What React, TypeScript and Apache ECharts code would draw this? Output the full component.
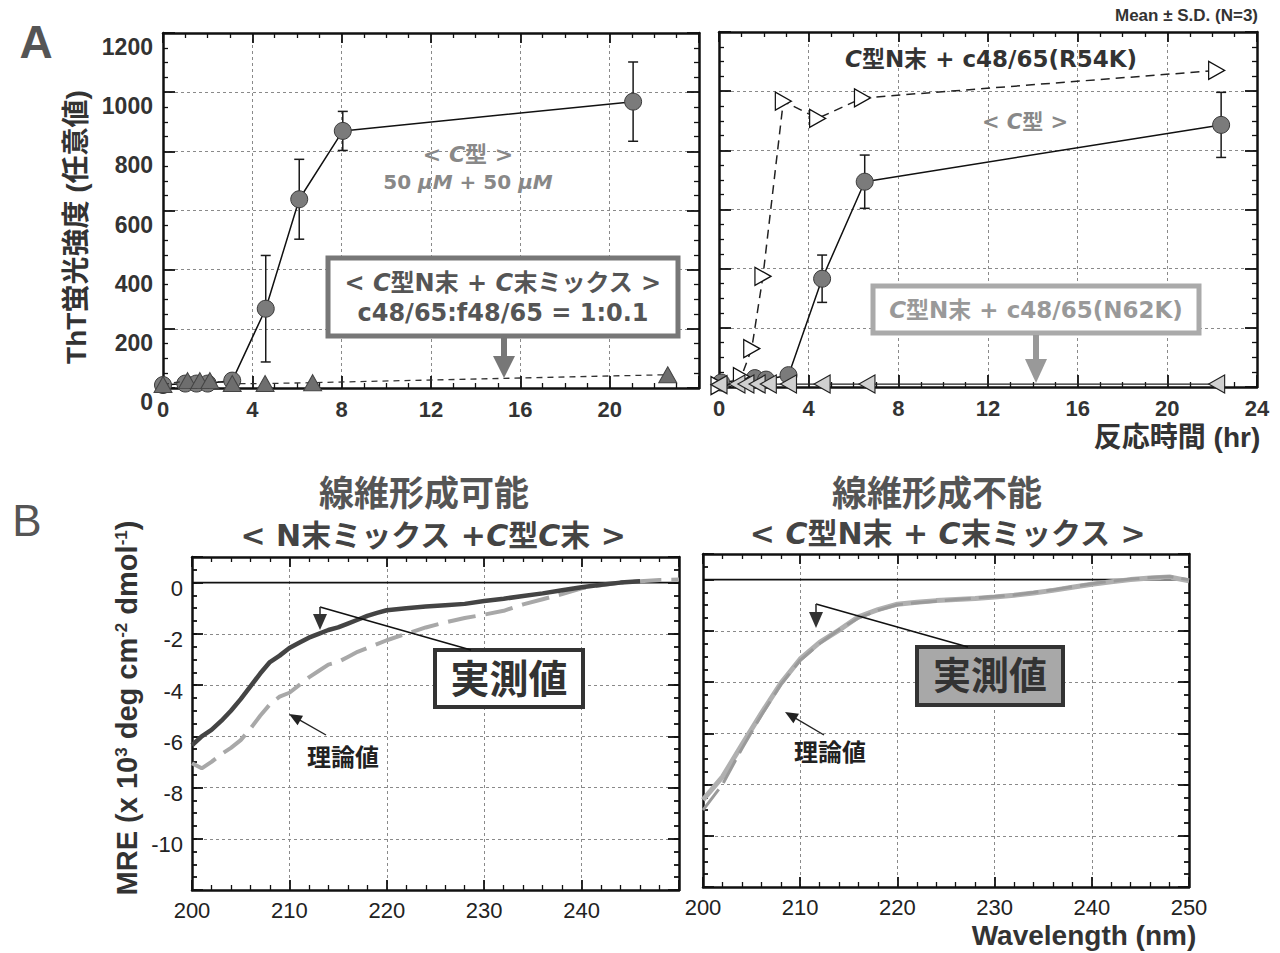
import React, { useEffect, useRef } from 'react';
import * as echarts from 'echarts';

// ---------- Panel A : ThT fluorescence (reaction time, hr) ----------
const leftCTime = [0, 1, 1.5, 2, 3.1, 4.6, 6.1, 8.05, 21.05];
const leftCValue = [10, 15, 15, 15, 25, 268, 638, 869, 968];
const leftCErr = [0, 0, 0, 0, 0, 180, 135, 66, 134];
const leftMixTime = [0, 1.1, 1.65, 2.1, 3.1, 4.57, 6.7, 22.6];
const leftMixValue = [12, 25, 25, 25, 15, 15, 18, 45];

const rightCTime = [0.1, 1.6, 2.1, 3.1, 4.6, 6.5, 22.4];
const rightCValue = [15, 30, 25, 40, 366, 694, 886];
const rightCErr = [0, 0, 0, 0, 80, 90, 110];
const rightR54KTime = [0, 1.0, 1.46, 1.96, 2.87, 4.4, 6.4, 22.2];
const rightR54KValue = [5, 35, 130, 374, 966, 908, 977, 1070];
const rightN62KTime = [0, 0.8, 1.2, 1.7, 2.2, 3.1, 4.6, 6.6, 22.2];
const rightN62KValue = [8, 10, 10, 10, 10, 10, 10, 10, 10];

// ---------- Panel B : CD spectra (MRE) ----------
const leftMeasWl = [200, 201, 202, 203, 204, 205, 206, 207, 208, 209, 210, 211, 212, 213, 214, 215, 216, 217, 218, 219, 220, 222, 224, 226, 228, 230, 232, 234, 236, 238, 240, 242, 244, 246];
const leftMeasMre = [-6.35, -6.0, -5.75, -5.4, -5.0, -4.55, -4.05, -3.55, -3.1, -2.85, -2.55, -2.35, -2.15, -2.0, -1.85, -1.75, -1.6, -1.45, -1.3, -1.18, -1.08, -1.0, -0.93, -0.88, -0.83, -0.72, -0.63, -0.52, -0.42, -0.3, -0.18, -0.08, 0.0, 0.05];
const leftTheoWl = [200, 201, 202, 203, 204, 205, 206, 207, 208, 209, 210, 211, 212, 213, 214, 215, 216, 217, 218, 219, 220, 222, 224, 226, 228, 230, 232, 234, 236, 238, 240, 242, 244, 246, 248, 250];
const leftTheoMre = [-7.05, -7.25, -7.0, -6.7, -6.45, -6.15, -5.7, -5.2, -4.75, -4.45, -4.3, -4.0, -3.7, -3.45, -3.2, -3.1, -2.9, -2.7, -2.55, -2.4, -2.25, -2.0, -1.75, -1.55, -1.38, -1.25, -1.1, -0.85, -0.65, -0.45, -0.22, -0.1, 0.0, 0.05, 0.1, 0.12];

const rightWl = [200, 202, 204, 206, 208, 210, 212, 214, 216, 218, 220, 222, 224, 226, 228, 230, 232, 234, 236, 238, 240, 242, 244, 246, 248, 250];
const rightMeasMre = [-8.6, -7.7, -6.45, -5.22, -4.05, -3.1, -2.45, -1.97, -1.45, -1.17, -0.96, -0.88, -0.82, -0.78, -0.74, -0.68, -0.61, -0.52, -0.42, -0.3, -0.18, -0.08, 0.0, 0.06, 0.1, -0.05];
const rightTheoMre = [-9.0, -8.0, -6.6, -5.3, -4.1, -3.15, -2.5, -1.95, -1.5, -1.2, -0.98, -0.9, -0.84, -0.78, -0.72, -0.66, -0.6, -0.5, -0.4, -0.28, -0.16, -0.06, 0.02, 0.08, 0.12, 0.0];

const zeroLineWl = [200, 250];
const zeroLineMre = [0, 0];

const FONT = "'Liberation Sans', 'Noto Sans CJK JP', Arial, sans-serif";
const WIDE = "'DejaVu Sans', 'Noto Sans CJK JP', sans-serif";

const zip = (a: number[], b: number[]) => a.map((x, i) => [x, b[i]]);

function axis(gridIndex: number, position: string, min: number, max: number, interval: number, o: any = {}) {
  return {
    type: 'value',
    gridIndex,
    position,
    min,
    max,
    interval,
    axisLine: { show: o.line !== false, onZero: false, lineStyle: { color: '#111', width: 2.5 } },
    axisTick: { show: true, inside: true, length: o.tickLen ?? 10, lineStyle: { color: '#111', width: 1.8 } },
    minorTick: { show: !!o.minor, splitNumber: o.minor || 5, length: o.minorLen ?? 5, lineStyle: { color: '#111', width: 1.3 } },
    axisLabel: o.label ? { show: true, fontFamily: FONT, ...o.label } : { show: false },
    splitLine: { show: !!o.split, lineStyle: { color: '#8a8a8a', width: 1, type: [3, 3] } },
    minorSplitLine: { show: false },
  };
}

function errSeries(xIdx: number, yIdx: number, t: number[], v: number[], e: number[]) {
  const data = t.map((x, i) => [x, v[i], e[i]]).filter((d) => d[2] > 0);
  return {
    type: 'custom',
    xAxisIndex: xIdx,
    yAxisIndex: yIdx,
    z: 3,
    data,
    encode: { x: 0, y: 1 },
    renderItem: (params: any, api: any) => {
      const x = api.value(0), y = api.value(1), er = api.value(2);
      const top = api.coord([x, y + er]);
      const bot = api.coord([x, y - er]);
      const w = 5;
      const st = { stroke: '#1a1a1a', lineWidth: 1.5 };
      return {
        type: 'group',
        children: [
          { type: 'line', shape: { x1: top[0], y1: top[1], x2: bot[0], y2: bot[1] }, style: st },
          { type: 'line', shape: { x1: top[0] - w, y1: top[1], x2: top[0] + w, y2: top[1] }, style: st },
          { type: 'line', shape: { x1: bot[0] - w, y1: bot[1], x2: bot[0] + w, y2: bot[1] }, style: st },
        ],
      };
    },
  };
}

function T(x: number, y: number, text: string, fontSize: number, o: any = {}) {
  const color = o.color || '#333';
  const weight = o.weight || 'bold';
  const family = o.family || FONT;
  return {
    type: 'text',
    x,
    y,
    rotation: o.rotation || 0,
    z: 100,
    style: {
      text,
      fill: color,
      fontSize,
      fontWeight: weight,
      fontFamily: family,
      align: o.align || 'center',
      verticalAlign: 'middle',
      rich: o.rich || {
        i: { fontStyle: 'italic', fontSize, fontWeight: weight, fontFamily: family, fill: color },
      },
    },
  };
}

function arrow(x1: number, y1: number, x2: number, y2: number, color: string, lw: number, headLen: number, headW: number) {
  const dx = x2 - x1, dy = y2 - y1;
  const L = Math.hypot(dx, dy);
  const ux = dx / L, uy = dy / L;
  const bx = x2 - ux * headLen, by = y2 - uy * headLen;
  const px = -uy * headW, py = ux * headW;
  return [
    { type: 'line', z: 100, shape: { x1, y1, x2: bx + ux * 2, y2: by + uy * 2 }, style: { stroke: color, lineWidth: lw } },
    { type: 'polygon', z: 100, shape: { points: [[x2, y2], [bx + px, by + py], [bx - px, by - py]] }, style: { fill: color } },
  ];
}

function buildOption(): any {
  const topXLabel = (hide24: boolean) => ({
    fontSize: 22, fontWeight: 'bold', color: '#333', margin: 10,
    formatter: (v: number) => (hide24 && v === 24 ? '' : String(v)),
  });
  const botXLabel = (hide250: boolean) => ({
    fontSize: 22, color: '#222', margin: 9,
    formatter: (v: number) => (hide250 && v === 250 ? '' : String(v)),
  });

  const xAxis = [
    axis(0, 'bottom', 0, 24, 4, { minor: 4, tickLen: 12, split: true, label: topXLabel(true) }),
    axis(0, 'top', 0, 24, 4, { minor: 4, tickLen: 10 }),
    axis(1, 'bottom', 0, 24, 4, { minor: 4, tickLen: 12, split: true, label: topXLabel(false) }),
    axis(1, 'top', 0, 24, 4, { minor: 4, tickLen: 10 }),
    axis(2, 'bottom', 200, 250, 10, { minor: 5, tickLen: 10, split: true, label: botXLabel(true) }),
    axis(2, 'top', 200, 250, 10, { minor: 5, tickLen: 10 }),
    axis(3, 'bottom', 200, 250, 10, { minor: 5, tickLen: 10, split: true, label: botXLabel(false) }),
    axis(3, 'top', 200, 250, 10, { minor: 5, tickLen: 10 }),
  ];

  const botYLabel = {
    fontSize: 22, color: '#222', margin: 9, verticalAlign: 'top', lineHeight: 12,
    formatter: (v: number) => (v >= -10 && v <= 0 ? String(v) : ''),
  };

  const yAxis = [
    axis(0, 'left', 0, 1200, 200, {
      minor: 4, tickLen: 12, split: true,
      label: { fontSize: 23, fontWeight: 'bold', color: '#333', margin: 10, verticalAlign: 'top', lineHeight: 28, formatter: (v: number) => String(v) },
    }),
    axis(0, 'right', 0, 1200, 200, { minor: 4, tickLen: 12 }),
    axis(1, 'left', 0, 1200, 200, { minor: 4, tickLen: 12, split: true }),
    axis(1, 'right', 0, 1200, 200, { minor: 4, tickLen: 12 }),
    axis(2, 'left', -12, 1, 2, { tickLen: 11, split: true, label: botYLabel }),
    axis(2, 'right', -12, 1, 2, { tickLen: 11 }),
    axis(2, 'left', -12, 1, 0.5, { line: false, tickLen: 5 }),
    axis(2, 'right', -12, 1, 0.5, { line: false, tickLen: 5 }),
    axis(3, 'left', -12, 1, 2, { tickLen: 11, split: true }),
    axis(3, 'right', -12, 1, 2, { tickLen: 11 }),
    axis(3, 'left', -12, 1, 0.5, { line: false, tickLen: 5 }),
    axis(3, 'right', -12, 1, 0.5, { line: false, tickLen: 5 }),
  ];

  const circleStyle = { color: '#7b7b7b', borderColor: '#3a3a3a', borderWidth: 1 };

  const series: any[] = [
    // top-left
    errSeries(0, 0, leftCTime, leftCValue, leftCErr),
    {
      type: 'line', name: 'C型', xAxisIndex: 0, yAxisIndex: 0, z: 4,
      data: zip(leftCTime, leftCValue), symbol: 'circle', symbolSize: 17,
      itemStyle: circleStyle, lineStyle: { color: '#111', width: 1.5 },
    },
    {
      type: 'line', name: 'C型N末 + C末ミックス', xAxisIndex: 0, yAxisIndex: 0, z: 5,
      data: zip(leftMixTime, leftMixValue), symbol: 'triangle', symbolSize: [18, 16],
      itemStyle: { color: '#6e6e6e', borderColor: '#444', borderWidth: 1 },
      lineStyle: { color: '#333', width: 1.3, type: [6, 5] },
    },
    // top-right
    errSeries(2, 2, rightCTime, rightCValue, rightCErr),
    {
      type: 'line', name: 'C型 (right)', xAxisIndex: 2, yAxisIndex: 2, z: 4,
      data: zip(rightCTime, rightCValue), symbol: 'circle', symbolSize: 17,
      itemStyle: circleStyle, lineStyle: { color: '#111', width: 1.5 },
    },
    {
      type: 'line', name: 'R54K', xAxisIndex: 2, yAxisIndex: 2, z: 5,
      data: zip(rightR54KTime, rightR54KValue), symbol: 'triangle', symbolSize: [18, 16], symbolRotate: -90,
      itemStyle: { color: '#ffffff', borderColor: '#111', borderWidth: 1.3 },
      lineStyle: { color: '#222', width: 1.5, type: [9, 6] },
    },
    {
      type: 'line', name: 'N62K', xAxisIndex: 2, yAxisIndex: 2, z: 6,
      data: zip(rightN62KTime, rightN62KValue), symbol: 'triangle', symbolSize: [18, 16], symbolRotate: 90,
      itemStyle: { color: '#d0d0d0', borderColor: '#222', borderWidth: 1.2 },
      lineStyle: { color: '#222', width: 1.2 },
    },
    // bottom-left
    {
      type: 'line', name: 'zeroL', xAxisIndex: 4, yAxisIndex: 4, z: 2, symbol: 'none',
      data: zip(zeroLineWl, zeroLineMre), lineStyle: { color: '#111', width: 1.6 },
    },
    {
      type: 'line', name: '理論値L', xAxisIndex: 4, yAxisIndex: 4, z: 3, symbol: 'none',
      data: zip(leftTheoWl, leftTheoMre), lineStyle: { color: '#a8a8a8', width: 4, type: [28, 10] },
    },
    {
      type: 'line', name: '実測値L', xAxisIndex: 4, yAxisIndex: 4, z: 4, symbol: 'none',
      data: zip(leftMeasWl, leftMeasMre), lineStyle: { color: '#444', width: 4.5 },
    },
    // bottom-right
    {
      type: 'line', name: 'zeroR', xAxisIndex: 6, yAxisIndex: 8, z: 2, symbol: 'none',
      data: zip(zeroLineWl, zeroLineMre), lineStyle: { color: '#111', width: 1.6 },
    },
    {
      type: 'line', name: '実測値R', xAxisIndex: 6, yAxisIndex: 8, z: 3, symbol: 'none',
      data: zip(rightWl, rightMeasMre), lineStyle: { color: '#b0b0b0', width: 5 },
    },
    {
      type: 'line', name: '理論値R', xAxisIndex: 6, yAxisIndex: 8, z: 4, symbol: 'none',
      data: zip(rightWl, rightTheoMre), lineStyle: { color: '#9a9a9a', width: 3, type: [26, 8] },
    },
  ];

  const mreRich = {
    sup: { fontSize: 17, fontWeight: 'bold', fontFamily: FONT, fill: '#333', verticalAlign: 'top' },
  };

  const W = { family: WIDE };

  const elements: any[] = [
    T(36, 42, 'A', 46, { color: '#555' }),
    T(27, 520, 'B', 44, { color: '#555', weight: 'normal' }),
    T(1258, 15, 'Mean ± S.D. (N=3)', 17, { align: 'right' }),
    T(76, 227, 'ThT蛍光強度 (任意値)', 28, { rotation: Math.PI / 2 }),
    T(1177, 437, '反応時間 (hr)', 28),
    // top-left annotations
    T(468, 154, '< {i|C}型 >', 22, { color: '#888', ...W }),
    T(468, 182, '50 {i|μM} + 50 {i|μM}', 20, { color: '#888', ...W }),
    { type: 'rect', z: 90, shape: { x: 328, y: 258, width: 350, height: 78 }, style: { fill: '#fff', stroke: '#777', lineWidth: 5 } },
    T(503, 283, '< {i|C}型N末 + {i|C}末ミックス >', 24, { color: '#555', ...W }),
    T(503, 313, 'c48/65:f48/65 = 1:0.1', 24, { color: '#555', ...W }),
    ...arrow(504, 338, 504, 378, '#777', 6, 22, 11),
    // top-right annotations
    T(991, 59, '{i|C}型N末 + c48/65(R54K)', 23, { color: '#333', ...W }),
    T(1025, 122, '< {i|C}型 >', 21, { color: '#888', ...W }),
    { type: 'rect', z: 90, shape: { x: 873, y: 286, width: 326, height: 47 }, style: { fill: '#fff', stroke: '#aaa', lineWidth: 5 } },
    T(1036, 310, '{i|C}型N末 + c48/65(N62K)', 23, { color: '#999', ...W }),
    ...arrow(1036, 335, 1036, 383, '#999', 6, 24, 11),
    // bottom-left annotations
    T(424, 493, '線維形成可能', 35, { color: '#555' }),
    T(433, 535, '< N末ミックス +{i|C}型{i|C}末 >', 30, { color: '#444', ...W }),
    { type: 'rect', z: 90, shape: { x: 435, y: 650, width: 148, height: 57 }, style: { fill: '#fff', stroke: '#333', lineWidth: 4 } },
    T(509, 679, '実測値', 39, { color: '#333' }),
    { type: 'polyline', z: 100, shape: { points: [[471, 650], [320, 607]] }, style: { stroke: '#111', lineWidth: 1.6, fill: 'none' } },
    ...arrow(320, 607, 320, 630, '#333', 1.6, 16, 7),
    T(343, 757, '理論値', 24, { color: '#222' }),
    ...arrow(326, 735, 289, 714, '#222', 1.4, 13, 5.5),
    // bottom-right annotations
    T(937, 493, '線維形成不能', 35, { color: '#555' }),
    T(948, 533, '< {i|C}型N末 + {i|C}末ミックス >', 30, { color: '#444', ...W }),
    { type: 'rect', z: 90, shape: { x: 917, y: 647, width: 146, height: 58 }, style: { fill: '#a8a8a8', stroke: '#333', lineWidth: 4 } },
    T(990, 676, '実測値', 38, { color: '#333' }),
    { type: 'polyline', z: 100, shape: { points: [[968, 647], [816, 604]] }, style: { stroke: '#111', lineWidth: 1.6, fill: 'none' } },
    ...arrow(816, 604, 816, 628, '#333', 1.6, 16, 7),
    T(830, 752, '理論値', 24, { color: '#222' }),
    ...arrow(824, 735, 785, 712, '#222', 1.4, 13, 5.5),
    T(1084, 935, 'Wavelength (nm)', 28, { color: '#333' }),
    T(127, 708, 'MRE (x 10{sup|3} deg cm{sup|-2} dmol{sup|-1})', 29, { rotation: Math.PI / 2, rich: mreRich }),
  ];

  return {
    animation: false,
    backgroundColor: '#ffffff',
    grid: [
      { left: 163, top: 33, width: 536, height: 355 },
      { left: 719, top: 32, width: 538, height: 355 },
      { left: 192, top: 557, width: 487, height: 333 },
      { left: 703, top: 554, width: 486, height: 333 },
    ],
    xAxis,
    yAxis,
    series,
    graphic: { elements },
  };
}

export default function App() {
  const ref = useRef<HTMLDivElement>(null);
  useEffect(() => {
    const chart = echarts.init(ref.current!, null, { renderer: 'svg' });
    chart.setOption(buildOption());
    return () => chart.dispose();
  }, []);
  return (
    <div
      ref={ref}
      style={{ position: 'fixed', left: 0, top: 0, width: 1280, height: 953, background: '#fff' }}
    />
  );
}
